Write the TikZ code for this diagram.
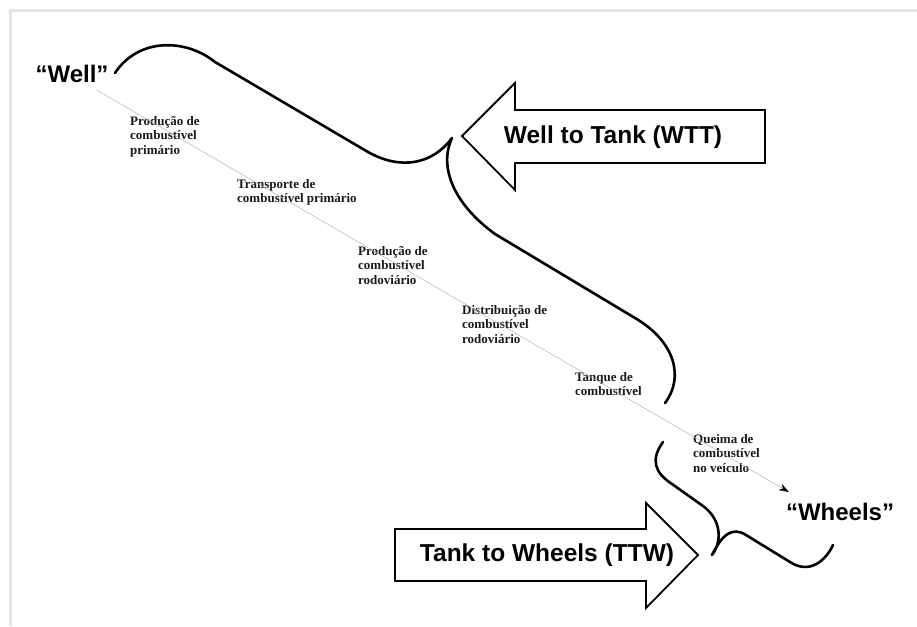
\documentclass[tikz,border=0pt]{standalone}
\usepackage{fontspec}
\setmainfont{Liberation Serif}
\newfontfamily\headfont{Liberation Sans}
\usetikzlibrary{positioning,arrows.meta}

\begin{document}
\begin{tikzpicture}[x=1pt,y=-1pt,
	brace/.style={line width=2.6pt, line cap=round, line join=round},
	bigarrow/.style={line width=1.8pt, line join=miter, fill=white},
	stage/.style={anchor=north west, inner sep=0pt, align=left,
		font=\fontsize{13}{14.5}\selectfont\bfseries, text=black!90},
	endpt/.style={inner sep=0pt, font=\headfont\fontsize{24}{28}\selectfont\bfseries},
	arrowtext/.style={inner sep=0pt, font=\headfont\fontsize{24.5}{28}\selectfont\bfseries}]
	\useasboundingbox (0,0) rectangle (917,626);
	% frame shadow
	\draw[gray!20, line width=3pt] (10,626) -- (10,11) -- (917,11);

	\node[endpt] (well) at (72,74) {“Well”};
	\node[endpt] (wheels) at (840,512) {“Wheels”};

	% stages along the chain
	\node[stage] (prodprim) at (130,116) {Produção de\\combustível\\primário};
	\node[stage] (transp) at (237,179) {Transporte de\\combustível primário};
	\node[stage] (prodrod) at (358,246) {Produção de\\combustível\\rodoviário};
	\node[stage] (distr) at (462,305) {Distribuição de\\combustível\\rodoviário};
	\node[stage] (tanque) at (575,372) {Tanque de\\combustível};
	\node[stage] (queima) at (693,434) {Queima de\\combustível\\no veículo};

	\draw[gray!60, line width=0.5pt, -{Stealth[length=10pt,width=7pt,black]}]
		([xshift=-12pt,yshift=-7pt]well.south east) -- ([xshift=3pt,yshift=11pt]wheels.north west);

	% well to tank
	\draw[bigarrow] (462,136) -- (515,83) -- (515,110) -- (765,110) -- (765,163)
		-- (515,163) -- (515,190) -- cycle;
	\node[arrowtext] (wtt) at (613,137) {Well to Tank (WTT)};
	\draw[brace] (115,73) .. controls (138,38) and (185,38) .. (215,62) -- (368,152)
		.. controls (400,170) and (432,165) .. (452,138)
		.. controls (438,168) and (455,205) .. (495,234) -- (635,318)
		.. controls (676,342) and (684,378) .. (665,403);

	% tank to wheels
	\draw[bigarrow] (395,529) -- (646,529) -- (646,503) -- (698,555) -- (646,608)
		-- (646,581) -- (395,581) -- cycle;
	\node[arrowtext] (ttw) at (547,555) {Tank to Wheels (TTW)};
	\draw[brace] (663,442) .. controls (650,460) and (655,473) .. (672,484) -- (703,506)
		.. controls (722,520) and (722,542) .. (712,555)
		.. controls (722,535) and (732,526) .. (746,535) -- (790,562)
		.. controls (810,575) and (826,560) .. (833,545);
\end{tikzpicture}
\end{document}
